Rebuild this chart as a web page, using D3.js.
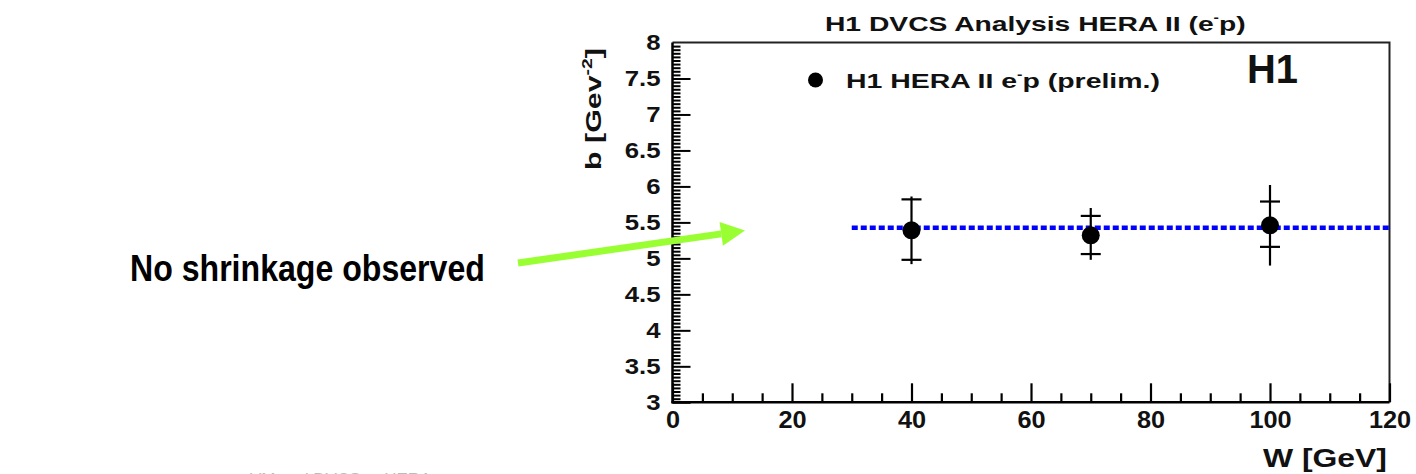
<!DOCTYPE html>
<html>
<head>
<meta charset="utf-8">
<script src="https://cdn.jsdelivr.net/npm/d3@7"></script>
<style>
  html, body { margin: 0; padding: 0; background: #fff; }
  svg { display: block; font-family: "Liberation Sans", Arial, Helvetica, sans-serif; }
</style>
</head>
<body>
<svg id="chart" width="1416" height="474"></svg>
<script>
// H1 DVCS t-slope b versus W
const energies = [40, 70, 100];                 // W [GeV]
const slopes = [5.39, 5.32, 5.46];             // b [GeV^-2]
const statUp = [0.43, 0.27, 0.33];
const statDown = [0.41, 0.26, 0.30];
const totalUp = [0.47, 0.38, 0.56];
const totalDown = [0.47, 0.34, 0.56];
const fitRange = [30, 120];
const fitValue = 5.425;
const xTicks = [0, 20, 40, 60, 80, 100, 120];
const yTicks = [3, 3.5, 4, 4.5, 5, 5.5, 6, 6.5, 7, 7.5, 8];

const svg = d3.select("#chart");
const plotL = 672.5, plotR = 1389.5, plotT = 42.5, plotB = 402.3;

const x = d3.scaleLinear().domain([0, 120]).range([plotL, plotR]);
const y = d3.scaleLinear().domain([3, 8]).range([plotB, plotT]);

// stretch a horizontal text element so it spans the given width, keeping its anchor point fixed
function fitWidth(sel, width) {
  const node = sel.node();
  const w = node.getBBox().width;
  const ax = +sel.attr("x");
  const s = width / w;
  sel.attr("transform", `translate(${ax},0) scale(${s},1) translate(${-ax},0)`);
}

// frame (top and right)
svg.append("path")
  .attr("d", `M${plotL},${plotT}H${plotR}V${plotB}`)
  .attr("fill", "none").attr("stroke", "#222").attr("stroke-width", 2);

// minor ticks
const xMinor = d3.range(0, 121, 5).filter(v => v % 20 !== 0);
const yMinor = d3.range(0, 101).map(i => 3 + i * 0.05).filter(v => Math.abs(v * 2 - Math.round(v * 2)) > 1e-6);

svg.append("g").attr("transform", `translate(0,${plotB})`)
  .call(d3.axisBottom(x).tickValues(xMinor).tickSizeInner(-9).tickSizeOuter(0).tickFormat(""))
  .call(g => g.select(".domain").remove())
  .call(g => g.selectAll("line").attr("stroke", "#000").attr("stroke-width", 2.2));

svg.append("g").attr("transform", `translate(${plotL},0)`)
  .call(d3.axisLeft(y).tickValues(yMinor).tickSizeInner(-8).tickSizeOuter(0).tickFormat(""))
  .call(g => g.select(".domain").remove())
  .call(g => g.selectAll("line").attr("stroke", "#000").attr("stroke-width", 2));

// major ticks + labels
const xAxis = svg.append("g").attr("transform", `translate(0,${plotB})`)
  .call(d3.axisBottom(x).tickValues(xTicks).tickSizeInner(-19).tickSizeOuter(0).tickPadding(9).tickFormat(d3.format("d")));
xAxis.select(".domain").attr("stroke", "#000").attr("stroke-width", 2.5)
  .attr("d", `M${plotL - 1},0H${plotR}`);
xAxis.selectAll("line").attr("stroke", "#000").attr("stroke-width", 2.2);
xAxis.selectAll("text").attr("font-size", 23).attr("font-weight", "bold")
  .attr("font-family", "Liberation Sans, Arial, sans-serif").attr("fill", "#111")
  .attr("transform", "scale(1.1,1)")
  .attr("x", 0);

const yAxis = svg.append("g").attr("transform", `translate(${plotL},0)`)
  .call(d3.axisLeft(y).tickValues(yTicks).tickSizeInner(-18).tickSizeOuter(0).tickPadding(13).tickFormat(d => String(d)));
yAxis.select(".domain").attr("stroke", "#000").attr("stroke-width", 2.5)
  .attr("d", `M0,${plotB + 1}V${plotT}`);
yAxis.selectAll("line").attr("stroke", "#000").attr("stroke-width", 2);
yAxis.selectAll(".tick").filter(d => d === 8).select("line").remove();
yAxis.selectAll("text").attr("font-size", 23).attr("font-weight", "bold")
  .attr("font-family", "Liberation Sans, Arial, sans-serif").attr("fill", "#111")
  .attr("transform", "scale(1.12,1)")
  .attr("x", -12 / 1.12);

// fit line
svg.append("line")
  .attr("x1", x(fitRange[0])).attr("x2", x(fitRange[1]))
  .attr("y1", y(fitValue)).attr("y2", y(fitValue))
  .attr("stroke", "#0000ff").attr("stroke-width", 4.5)
  .attr("stroke-dasharray", "6,3");

// error bars
const pts = energies.map((w, i) => ({
  w, b: slopes[i],
  su: slopes[i] + statUp[i], sd: slopes[i] - statDown[i],
  tu: slopes[i] + totalUp[i], td: slopes[i] - totalDown[i]
}));
const eg = svg.append("g").attr("stroke", "#000").attr("stroke-width", 2.2);
eg.selectAll("line.v").data(pts).join("line").attr("class", "v")
  .attr("x1", d => x(d.w)).attr("x2", d => x(d.w))
  .attr("y1", d => y(d.tu)).attr("y2", d => y(d.td));
eg.selectAll("line.cu").data(pts).join("line").attr("class", "cu")
  .attr("x1", d => x(d.w) - 10).attr("x2", d => x(d.w) + 10)
  .attr("y1", d => y(d.su)).attr("y2", d => y(d.su));
eg.selectAll("line.cd").data(pts).join("line").attr("class", "cd")
  .attr("x1", d => x(d.w) - 10).attr("x2", d => x(d.w) + 10)
  .attr("y1", d => y(d.sd)).attr("y2", d => y(d.sd));

svg.append("g").selectAll("circle").data(pts).join("circle")
  .attr("cx", d => x(d.w)).attr("cy", d => y(d.b)).attr("r", 9)
  .attr("fill", "#000");

// title
const title = svg.append("text").attr("x", 825).attr("y", 31)
  .attr("font-size", 21).attr("font-weight", "bold").attr("fill", "#111");
title.append("tspan").text("H1 DVCS Analysis HERA II (e");
title.append("tspan").attr("font-size", 12).attr("dy", -9).text("-");
title.append("tspan").attr("dy", 9).text("p)");
fitWidth(title, 421);

// legend
svg.append("circle").attr("cx", 815.5).attr("cy", 80).attr("r", 7.5).attr("fill", "#000");
const leg = svg.append("text").attr("x", 846).attr("y", 88)
  .attr("font-size", 21).attr("font-weight", "bold").attr("fill", "#111");
leg.append("tspan").text("H1 HERA II e");
leg.append("tspan").attr("font-size", 12).attr("dy", -9).text("-");
leg.append("tspan").attr("dy", 9).text("p (prelim.)");
fitWidth(leg, 314);

// experiment tag
const tag = svg.append("text").attr("x", 1247).attr("y", 83)
  .attr("font-size", 41).attr("font-weight", "bold").attr("fill", "#111").text("H1");
fitWidth(tag, 51);

// axis titles
const xl = svg.append("text").attr("x", 1263).attr("y", 467)
  .attr("font-size", 25).attr("font-weight", "bold").attr("fill", "#111").text("W [GeV]");
fitWidth(xl, 124);

const yl = svg.append("text").attr("x", 0).attr("y", 0)
  .attr("text-anchor", "middle").attr("font-size", 22).attr("font-weight", "bold").attr("fill", "#111");
yl.append("tspan").text("b [Gev");
yl.append("tspan").attr("font-size", 14).attr("dy", -9).text("-2");
yl.append("tspan").attr("dy", 9).text("]");
const ylScale = 122 / yl.node().getBBox().width;
yl.attr("transform", `translate(601,109) rotate(-90) scale(${ylScale},1)`);

// annotation
const note = svg.append("text").attr("x", 130).attr("y", 281)
  .attr("font-size", 37).attr("font-weight", "bold").attr("fill", "#000")
  .text("No shrinkage observed");
fitWidth(note, 355);

const a0 = [518, 263], a1 = [745, 230.5];
const ang = Math.atan2(a1[1] - a0[1], a1[0] - a0[0]);
const headLen = 24, headHalf = 12;
const bx = a1[0] - headLen * Math.cos(ang), by = a1[1] - headLen * Math.sin(ang);
svg.append("line").attr("x1", a0[0]).attr("y1", a0[1]).attr("x2", bx).attr("y2", by)
  .attr("stroke", "#99ff33").attr("stroke-width", 7);
svg.append("path")
  .attr("d", `M${a1[0]},${a1[1]}L${bx - headHalf * Math.sin(ang)},${by + headHalf * Math.cos(ang)}L${bx + headHalf * Math.sin(ang)},${by - headHalf * Math.cos(ang)}Z`)
  .attr("fill", "#99ff33");

// footer (partly outside the page)
svg.append("text").attr("x", 250).attr("y", 485)
  .attr("font-size", 17).attr("fill", "#bbb").text("VM and DVCS at HERA");
</script>
</body>
</html>
